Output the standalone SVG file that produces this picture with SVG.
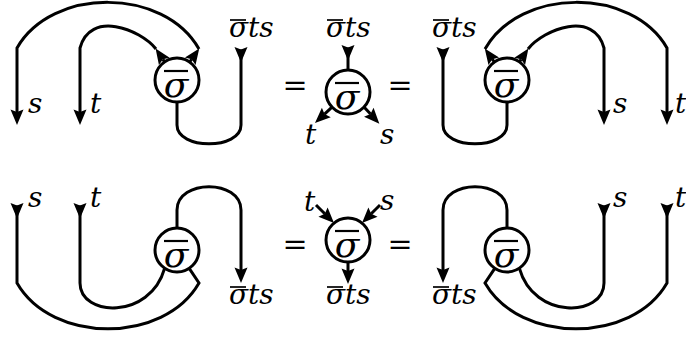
<svg xmlns="http://www.w3.org/2000/svg" width="686" height="337" viewBox="0 0 686 337">
<style>
.w{fill:none;stroke:#000;stroke-width:3}
.n{fill:#fff;stroke:#000;stroke-width:3}
.ol{stroke:#000;stroke-width:1.7}
.oi{stroke:#000;stroke-width:2.2}
.lab{font-family:"DejaVu Serif","Liberation Serif",serif;font-style:italic;font-size:28px;fill:#000}
.in{font-family:"DejaVu Serif","Liberation Serif",serif;font-style:italic;font-size:36px;text-anchor:middle;fill:#000}
.eq{font-family:"DejaVu Serif","Liberation Serif",serif;font-style:normal;font-size:30px;text-anchor:middle;fill:#000}
</style>
<defs>
<marker id="arr" markerUnits="userSpaceOnUse" orient="auto" markerWidth="24" markerHeight="18" viewBox="-6 -9 24 18" refX="0" refY="0">
<path d="M-2.5,-6.5 L13,0 L-2.5,6.5 L0,0 Z" fill="#000"/>
</marker>
</defs>
<g id="connectors">
<path class="w" d="M189.7,62 L191.7,59.2" marker-end="url(#arr)"/>
<path class="w" d="M199,49 C164,-13 52,-13 17,48 L17,112" marker-end="url(#arr)"/>
<path class="w" d="M164.6,61.8 L162.9,59.3" marker-end="url(#arr)"/>
<path class="w" d="M156,49 C140,29 90,10 80,48 L80,112" marker-end="url(#arr)"/>
<path class="w" d="M241,49.5 L241,125 C241,150 177,150 177,125 L177,102" marker-start="url(#arr)"/>
<path class="w" d="M348,47.5 L348,70" marker-start="url(#arr)"/>
<path class="w" d="M332,107.1 L324.5,114.1" marker-end="url(#arr)"/>
<path class="w" d="M364,107.1 L370.5,114.1" marker-end="url(#arr)"/>
<path class="w" d="M494.3,62 L492.3,59.2" marker-end="url(#arr)"/>
<path class="w" d="M485,49 C520,-13 632,-13 667,48 L667,112" marker-end="url(#arr)"/>
<path class="w" d="M519.4,61.8 L521.1,59.3" marker-end="url(#arr)"/>
<path class="w" d="M528,49 C544,29 594,10 604,48 L604,112" marker-end="url(#arr)"/>
<path class="w" d="M443,49.5 L443,125 C443,150 507,150 507,125 L507,102" marker-start="url(#arr)"/>
<path class="w" d="M17,205.5 L17,283 C52,344 164,344 199,283 L189.2,268.3" marker-start="url(#arr)"/>
<path class="w" d="M80,205.5 L80,283 C80,317 150,320 164.6,268.3" marker-start="url(#arr)"/>
<path class="w" d="M177,228 L177,210 C177,179 241,179 241,210 L241,270" marker-end="url(#arr)"/>
<path class="w" d="M316,205 L324.8,213.8" marker-end="url(#arr)"/>
<path class="w" d="M380,205 L371.2,213.8" marker-end="url(#arr)"/>
<path class="w" d="M348,262 L348,271" marker-end="url(#arr)"/>
<path class="w" d="M667,205.5 L667,283 C632,344 520,344 485,283 L494.8,268.3" marker-start="url(#arr)"/>
<path class="w" d="M604,205.5 L604,283 C604,317 534,320 519.4,268.3" marker-start="url(#arr)"/>
<path class="w" d="M507,228 L507,210 C507,179 443,179 443,210 L443,270" marker-end="url(#arr)"/>
</g>
<g id="node-tl"><circle class="n" cx="177" cy="80" r="22"/><text class="in" x="176" y="97">σ</text><line class="oi" x1="164" y1="71" x2="188" y2="71"/></g>
<g id="node-tm"><circle class="n" cx="348" cy="92" r="22"/><text class="in" x="347" y="109">σ</text><line class="oi" x1="335" y1="83" x2="359" y2="83"/></g>
<g id="node-tr"><circle class="n" cx="507" cy="80" r="22"/><text class="in" x="506" y="97">σ</text><line class="oi" x1="494" y1="71" x2="518" y2="71"/></g>
<g id="node-bl"><circle class="n" cx="177" cy="250" r="22"/><text class="in" x="176" y="267">σ</text><line class="oi" x1="164" y1="241" x2="188" y2="241"/></g>
<g id="node-bm"><circle class="n" cx="348" cy="240" r="22"/><text class="in" x="347" y="257">σ</text><line class="oi" x1="335" y1="231" x2="359" y2="231"/></g>
<g id="node-br"><circle class="n" cx="507" cy="250" r="22"/><text class="in" x="506" y="267">σ</text><line class="oi" x1="494" y1="241" x2="518" y2="241"/></g>
<g id="labels">
<text class="lab" x="28" y="113">s</text>
<text class="lab" x="90" y="113">t</text>
<text class="lab" x="229" y="37">σts</text><line class="ol" x1="230" y1="20" x2="246" y2="20"/>
<text class="lab" x="326" y="37">σts</text><line class="ol" x1="327" y1="20" x2="343" y2="20"/>
<text class="lab" x="305" y="144">t</text>
<text class="lab" x="380" y="144">s</text>
<text class="lab" x="432" y="37">σts</text><line class="ol" x1="433" y1="20" x2="449" y2="20"/>
<text class="lab" x="613" y="113">s</text>
<text class="lab" x="675" y="113">t</text>
<text class="lab" x="28" y="207">s</text>
<text class="lab" x="90" y="207">t</text>
<text class="lab" x="229" y="304">σts</text><line class="ol" x1="230" y1="287" x2="246" y2="287"/>
<text class="lab" x="304" y="211">t</text>
<text class="lab" x="380" y="210">s</text>
<text class="lab" x="326" y="304">σts</text><line class="ol" x1="327" y1="287" x2="343" y2="287"/>
<text class="lab" x="432" y="304">σts</text><line class="ol" x1="433" y1="287" x2="449" y2="287"/>
<text class="lab" x="613" y="207">s</text>
<text class="lab" x="675" y="207">t</text>
<text class="eq" x="295" y="95">=</text>
<text class="eq" x="400" y="95">=</text>
<text class="eq" x="295" y="254">=</text>
<text class="eq" x="400" y="254">=</text>
</g>
</svg>
